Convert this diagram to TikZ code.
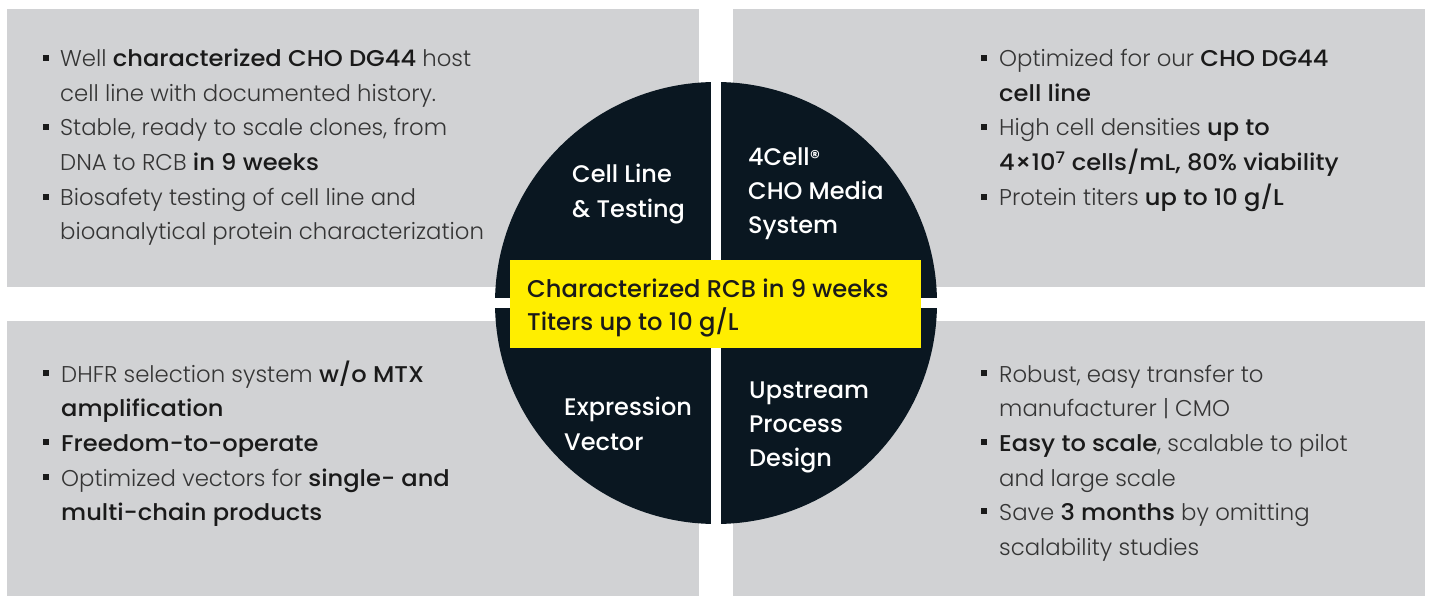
\documentclass[tikz,border=0pt]{standalone}
\usepackage{fontspec}
\setmainfont{Poppins}[UprightFont={Poppins Light},BoldFont={Poppins Medium},BoldFeatures={FakeStretch=1.06}]
\newfontfamily\medfont{Poppins Medium}
\definecolor{panel}{HTML}{D1D2D4}
\definecolor{navy}{HTML}{0A1721}
\definecolor{hiyel}{HTML}{FFEE00}
\definecolor{bodyc}{HTML}{353535}
\definecolor{boldc}{HTML}{1A1A1A}
\newcommand\B[1]{{\bfseries\color{boldc}#1}}
\begin{document}
\begin{tikzpicture}[x=1pt,y=-1pt,
  txt/.style={anchor=base west,inner sep=0pt,text=bodyc,font=\fontsize{22.8}{24}\selectfont},
  lbl/.style={anchor=base west,inner sep=0pt,text=white,font=\medfont\fontsize{24}{26}\selectfont},
  ytxt/.style={anchor=base west,inner sep=0pt,text=boldc,font=\medfont\fontsize{24.2}{26}\selectfont},
  bul/.style={fill=boldc,minimum size=6pt,inner sep=0pt,rectangle},
  pnl/.style={fill=panel}]
\useasboundingbox (0,0) rectangle (1430,596);
\fill[white] (0,0) rectangle (1430,596);
% panels
\fill[pnl] (7,9) rectangle (699,287);
\fill[pnl] (733,9) rectangle (1425,287);
\fill[pnl] (7,321) rectangle (699,596);
\fill[pnl] (733,321) rectangle (1425,596);
% disc
\node[circle,fill=navy,minimum size=442pt,inner sep=0pt] (disc) at (716,303) {};
\fill[white] (711,80) rectangle (721,526);
\fill[white] (493,298) rectangle (939,308);
\node[fill=hiyel,minimum width=411pt,minimum height=88pt,inner sep=0pt,anchor=north west] (hl) at (510,260) {};
% disc labels
\node[lbl] (q1a) at (572,183) {Cell Line};
\node[lbl] (q1b) at (572,218) {\& Testing};
\node[lbl] (q2a) at (748,166) {4Cell\raisebox{1pt}{\fontsize{20}{20}\selectfont ®}};
\node[lbl] (q2b) at (748,200) {CHO Media};
\node[lbl] (q2c) at (748,234) {System};
\node[lbl] (q3a) at (564,415) {Expression};
\node[lbl] (q3b) at (564,450) {Vector};
\node[lbl] (q4a) at (749,398) {Upstream};
\node[lbl] (q4b) at (749,432) {Process};
\node[lbl] (q4c) at (749,466) {Design};
\node[ytxt] (y1) at (527,297) {Characterized RCB in 9 weeks};
\node[ytxt] (y2) at (527,330) {Titers up to 10 g/L};
% top left
\node[bul] (tlb1) at (46,58) {};
\node[txt] (tl1) at (60,67) {Well \B{characterized CHO DG44} host};
\node[txt] (tl2) at (60,102) {cell line with documented history.};
\node[bul] (tlb2) at (46,127) {};
\node[txt] (tl3) at (60,136) {Stable, ready to scale clones, from};
\node[txt] (tl4) at (60,171) {DNA to RCB \B{in 9 weeks}};
\node[bul] (tlb3) at (46,197) {};
\node[txt] (tl5) at (60,206) {Biosafety testing of cell line and};
\node[txt] (tl6) at (60,240) {bioanalytical protein characterization};
% top right
\node[bul] (trb1) at (984,58) {};
\node[txt] (tr1) at (999,67) {Optimized for our \B{CHO DG44}};
\node[txt] (tr2) at (999,102) {\B{cell line}};
\node[bul] (trb2) at (984,127) {};
\node[txt] (tr3) at (999,136) {High cell densities \B{up to}};
\node[txt] (tr4) at (999,171) {\B{4×10\textsuperscript{7} cells/mL, 80\% viability}};
\node[bul] (trb3) at (984,197) {};
\node[txt] (tr5) at (999,206) {Protein titers \B{up to 10 g/L}};
% bottom left
\node[bul] (blb1) at (46,373) {};
\node[txt] (bl1) at (61,382) {DHFR selection system \B{w/o MTX}};
\node[txt] (bl2) at (61,416) {\B{amplification}};
\node[bul] (blb2) at (46,442) {};
\node[txt] (bl3) at (61,451) {\B{Freedom-to-operate}};
\node[bul] (blb3) at (46,477) {};
\node[txt] (bl4) at (61,486) {Optimized vectors for \B{single- and}};
\node[txt] (bl5) at (61,520) {\B{multi-chain products}};
% bottom right
\node[bul] (brb1) at (984,373) {};
\node[txt] (br1) at (999,382) {Robust, easy transfer to};
\node[txt] (br2) at (999,416) {manufacturer | CMO};
\node[bul] (brb2) at (984,442) {};
\node[txt] (br3) at (999,451) {\B{Easy to scale}, scalable to pilot};
\node[txt] (br4) at (999,486) {and large scale};
\node[bul] (brb3) at (984,511) {};
\node[txt] (br5) at (999,520) {Save \B{3 months} by omitting};
\node[txt] (br6) at (999,555) {scalability studies};
\end{tikzpicture}
\end{document}
